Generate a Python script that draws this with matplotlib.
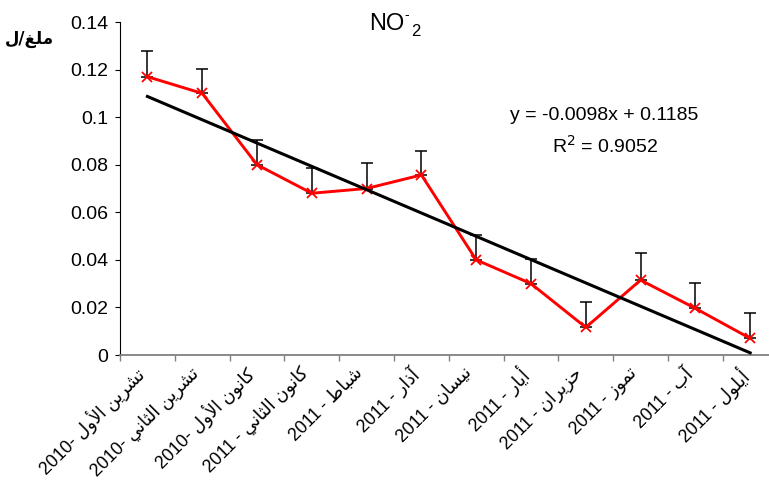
import numpy as np
import matplotlib
matplotlib.use("Agg")
import matplotlib.pyplot as plt
from matplotlib.ticker import FixedLocator, NullFormatter
from matplotlib.transforms import ScaledTranslation

# ---- data ----
months = ["تشرين الأول", "تشرين الثاني", "كانون الأول", "كانون الثاني", "شباط",
          "آذار", "نيسان", "أيار", "حزيران", "تموز", "آب", "أيلول"]
years = ["2010", "2010", "2010", "2011", "2011", "2011",
         "2011", "2011", "2011", "2011", "2011", "2011"]
no2 = [0.117, 0.110, 0.080, 0.068, 0.070, 0.0757, 0.040, 0.030, 0.0116, 0.0315, 0.0196, 0.007]
no2_err = [0.0107, 0.0103, 0.0105, 0.0107, 0.0108, 0.0101, 0.0105, 0.0103, 0.0108, 0.0113, 0.0108, 0.0105]
slope, intercept, r2 = -0.0098, 0.1185, 0.9052
y_ticks = [0, 0.02, 0.04, 0.06, 0.08, 0.1, 0.12, 0.14]
y_tick_labels = ["0", "0.02", "0.04", "0.06", "0.08", "0.1", "0.12", "0.14"]
y_unit = "ملغ/ل"

# ---- minimal Arabic shaping (presentation forms) for RTL display ----
_DUAL = {
    "ب": "\uFE8F\uFE90\uFE91\uFE92", "ت": "\uFE95\uFE96\uFE97\uFE98",
    "ث": "\uFE99\uFE9A\uFE9B\uFE9C", "ح": "\uFEA1\uFEA2\uFEA3\uFEA4",
    "س": "\uFEB1\uFEB2\uFEB3\uFEB4", "ش": "\uFEB5\uFEB6\uFEB7\uFEB8",
    "ط": "\uFEC1\uFEC2\uFEC3\uFEC4", "غ": "\uFECD\uFECE\uFECF\uFED0",
    "ك": "\uFED9\uFEDA\uFEDB\uFEDC", "ل": "\uFEDD\uFEDE\uFEDF\uFEE0",
    "م": "\uFEE1\uFEE2\uFEE3\uFEE4", "ن": "\uFEE5\uFEE6\uFEE7\uFEE8",
    "ي": "\uFEF1\uFEF2\uFEF3\uFEF4",
}
_RIGHT = {
    "ا": "\uFE8D\uFE8E", "أ": "\uFE83\uFE84", "آ": "\uFE81\uFE82",
    "ذ": "\uFEAB\uFEAC", "ر": "\uFEAD\uFEAE", "ز": "\uFEAF\uFEB0",
    "و": "\uFEED\uFEEE",
    "لا": "\uFEFB\uFEFC", "لأ": "\uFEF7\uFEF8", "لآ": "\uFEF5\uFEF6",
}


def rtl(text):
    tokens = []
    i = 0
    while i < len(text):
        pair = text[i:i + 2]
        if pair in _RIGHT and len(pair) == 2:
            tokens.append(pair)
            i += 2
        else:
            tokens.append(text[i])
            i += 1
    out = []
    for k, t in enumerate(tokens):
        prev = tokens[k - 1] if k > 0 else None
        nxt = tokens[k + 1] if k + 1 < len(tokens) else None
        join_prev = prev in _DUAL
        if t in _DUAL:
            join_next = nxt in _DUAL or nxt in _RIGHT
            forms = _DUAL[t]
            if join_prev and join_next:
                out.append(forms[3])
            elif join_next:
                out.append(forms[2])
            elif join_prev:
                out.append(forms[1])
            else:
                out.append(forms[0])
        elif t in _RIGHT:
            out.append(_RIGHT[t][1] if join_prev else _RIGHT[t][0])
        else:
            out.append(t)
    return "".join(reversed(out))


labels = [(y + "- " if y == "2010" else y + " - ") + rtl(m) for m, y in zip(months, years)]

# ---- figure ----
plt.rcParams["font.family"] = ["Liberation Sans", "DejaVu Sans"]

fig = plt.figure(figsize=(7.69, 4.88), dpi=100)
ax = fig.add_axes([120 / 769, 133 / 488, 657.6 / 769, 333 / 488])

x = np.arange(len(no2))
ax.errorbar(x, no2, yerr=[np.zeros(len(no2)), no2_err], fmt="none",
            ecolor="black", elinewidth=1.1, capsize=4, capthick=1.1, zorder=2)
ax.plot(x, no2, color="#ff0000", lw=2.1, marker="x", ms=7, mew=1.3, zorder=3)
trend = slope * (x + 1) + intercept
ax.plot(x, trend, color="black", lw=2.2, zorder=4)

ax.set_xlim(-0.5, 11.5)
ax.set_ylim(0, 0.14)
ax.yaxis.set_major_locator(FixedLocator(y_ticks))
ax.set_yticklabels(y_tick_labels)

# category boundaries carry the tick marks; month labels sit under each centre
ax.set_xticks(np.arange(-0.5, 12, 1))
ax.xaxis.set_major_formatter(NullFormatter())
ax.tick_params(axis="x", length=4.5, width=1, color="#808080", direction="out")
label_tf = ax.get_xaxis_transform() + ScaledTranslation(-13 / 100, -9 / 100, fig.dpi_scale_trans)
for xi, lab in zip(x, labels):
    ax.text(xi, 0, lab, transform=label_tf, rotation=45, ha="right", va="top",
            rotation_mode="anchor", fontsize=12.8, clip_on=False)

ax.tick_params(axis="y", length=3.5, width=0.8, direction="out", labelsize=14, pad=5)

for side in ("top", "right"):
    ax.spines[side].set_visible(False)
ax.spines["bottom"].set_color("#808080")
ax.spines["bottom"].set_linewidth(1.3)
ax.spines["left"].set_color("black")
ax.spines["left"].set_linewidth(0.8)
ax.patch.set_alpha(0)

# title: NO with a raised hyphen and a lowered 2
fig.text(387 / 769, 1 - 24 / 488, "NO", ha="center", va="center", fontsize=17)
fig.text(407 / 769, 1 - 15 / 488, "-", ha="center", va="center", fontsize=10)
fig.text(416 / 769, 1 - 31 / 488, "2", ha="center", va="center", fontsize=12)

fig.text(604 / 769, 1 - 115 / 488, "y = %.4fx + %.4f" % (slope, intercept),
         ha="center", va="center", fontsize=14)
fig.text(605 / 769, 1 - 146 / 488, r"R$^{2}$ = %.4f" % r2,
         ha="center", va="center", fontsize=14)
fig.text(29 / 769, 1 - 39 / 488, rtl(y_unit), ha="center", va="center",
         fontsize=12, fontweight="bold", family=["DejaVu Sans"])

fig.savefig("out.png", dpi=100)
